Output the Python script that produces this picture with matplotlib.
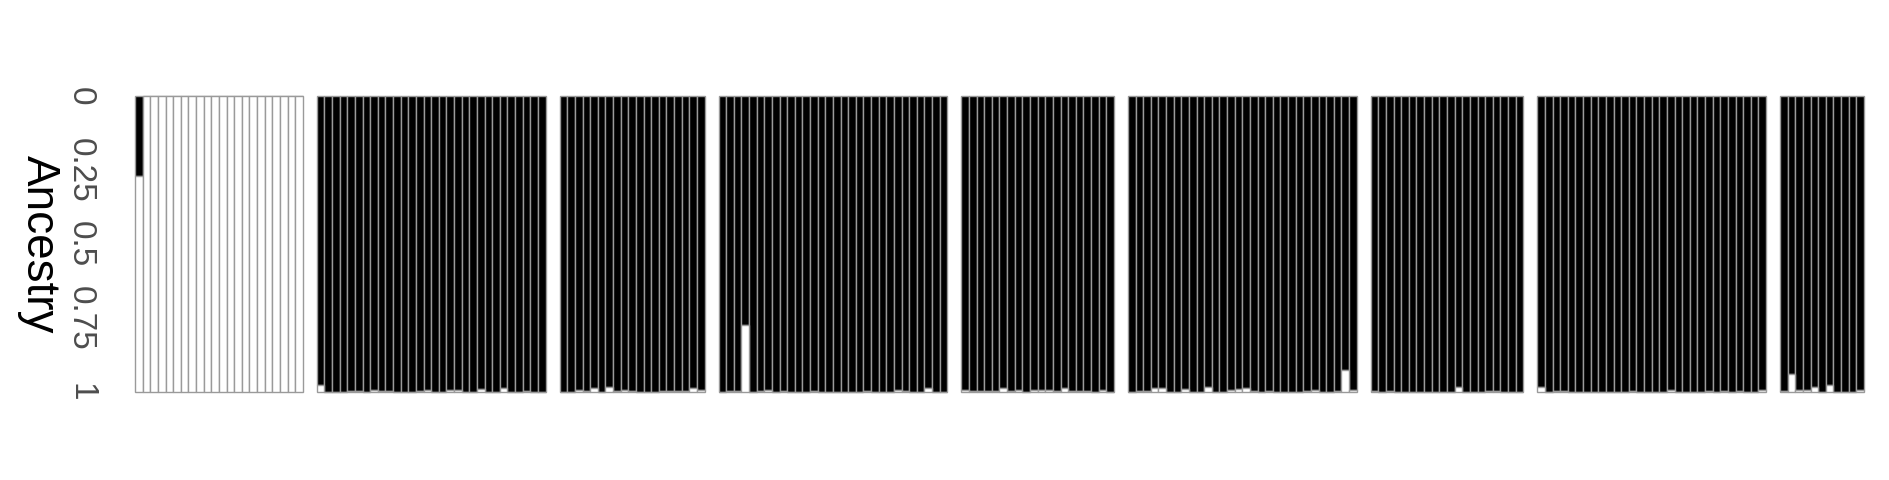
import matplotlib
matplotlib.use("Agg")
import matplotlib.pyplot as plt
import numpy as np

plt.rcParams['font.family'] = ['Liberation Sans', 'DejaVu Sans']

# Ancestry proportion of the second (white) cluster for each individual, per population
pop1 = [0.73, 1, 1, 1, 1, 1, 1, 1, 1, 1, 1, 1, 1, 1, 1, 1, 1, 1, 1, 1, 1, 1]
pop2 = [0.022, 0, 0, 0, 0.005, 0.003, 0, 0.007, 0.004, 0.004, 0, 0, 0, 0.005, 0.006,
        0, 0, 0.006, 0.006, 0, 0, 0.01, 0, 0, 0.014, 0, 0, 0.004, 0, 0]
pop3 = [0, 0, 0.006, 0.004, 0.012, 0, 0.016, 0.003, 0.008, 0.002, 0, 0, 0, 0.002,
        0.002, 0.004, 0.004, 0.012, 0.006]
pop4 = [0, 0.003, 0.003, 0.225, 0, 0.003, 0.008, 0, 0.004, 0, 0, 0, 0.005, 0, 0,
        0, 0, 0, 0, 0.003, 0, 0, 0, 0.006, 0.003, 0, 0, 0.014, 0, 0]
pop5 = [0.006, 0.005, 0.004, 0.004, 0.003, 0.015, 0.004, 0.008, 0, 0.007, 0.006,
        0.006, 0.002, 0.012, 0.004, 0.004, 0.003, 0, 0.007, 0]
pop6 = [0, 0.003, 0.003, 0.012, 0.012, 0, 0, 0.011, 0, 0, 0.016, 0, 0, 0.008, 0.011,
        0.012, 0.004, 0, 0.005, 0, 0, 0, 0, 0.004, 0.008, 0, 0, 0.004, 0.075, 0.008]
pop7 = [0.004, 0, 0.003, 0, 0, 0, 0, 0, 0, 0, 0, 0.017, 0, 0, 0, 0.002, 0.003, 0, 0, 0]
pop8 = [0.017, 0, 0.002, 0.003, 0, 0, 0, 0, 0, 0, 0, 0, 0.003, 0, 0, 0, 0, 0.008, 0,
        0, 0, 0, 0.004, 0, 0.004, 0, 0.004, 0, 0, 0.007]
pop9 = [0.004, 0.062, 0.006, 0.008, 0.018, 0, 0.025, 0, 0, 0, 0.007]

populations = [pop1, pop2, pop3, pop4, pop5, pop6, pop7, pop8, pop9]
y_ticks = [0, 0.25, 0.5, 0.75, 1]
y_ticklabels = ["0", "0.25", "0.5", "0.75", "1"]
y_label = "Ancestry"

W, H = 1890, 480
fig = plt.figure(figsize=(W / 100, H / 100), dpi=100)

x_start, x_end = 135, 1864
gap = 14
top_px, bot_px = 96, 392
total = sum(len(p) for p in populations)
unit = (x_end - x_start - gap * (len(populations) - 1)) / total

edge = "#9a9a9a"
lw = 1.0
cur = x_start
for i, white in enumerate(populations):
    n = len(white)
    white = np.array(white, dtype=float)
    black = 1 - white
    ax = fig.add_axes([cur / W, 1 - bot_px / H, n * unit / W, (bot_px - top_px) / H])
    ax.patch.set_visible(False)
    x = np.arange(1, n + 1)
    b1 = ax.bar(x, black, width=1, bottom=0, color="black", edgecolor=edge, linewidth=lw)
    b2 = ax.bar(x, white, width=1, bottom=black, color="white", edgecolor=edge, linewidth=lw)
    for p in list(b1) + list(b2):
        p.set_clip_on(False)
    ax.set_xlim(0.5, n + 0.5)
    ax.set_ylim(1, 0)
    for s in ax.spines.values():
        s.set_visible(False)
    ax.set_xticks([])
    if i == 0:
        ax.set_yticks(y_ticks)
        ax.set_yticklabels(y_ticklabels, rotation=-90, ha="right", va="center",
                           fontsize=24, color="#4d4d4d")
        ax.tick_params(axis="y", length=0, pad=28)
    else:
        ax.set_yticks([])
    cur += n * unit + gap

fig.text(39 / W, 1 - 244 / H, y_label, rotation=-90, ha="center", va="center",
         fontsize=33, color="black")

fig.savefig("out.png", dpi=100, facecolor="white")
